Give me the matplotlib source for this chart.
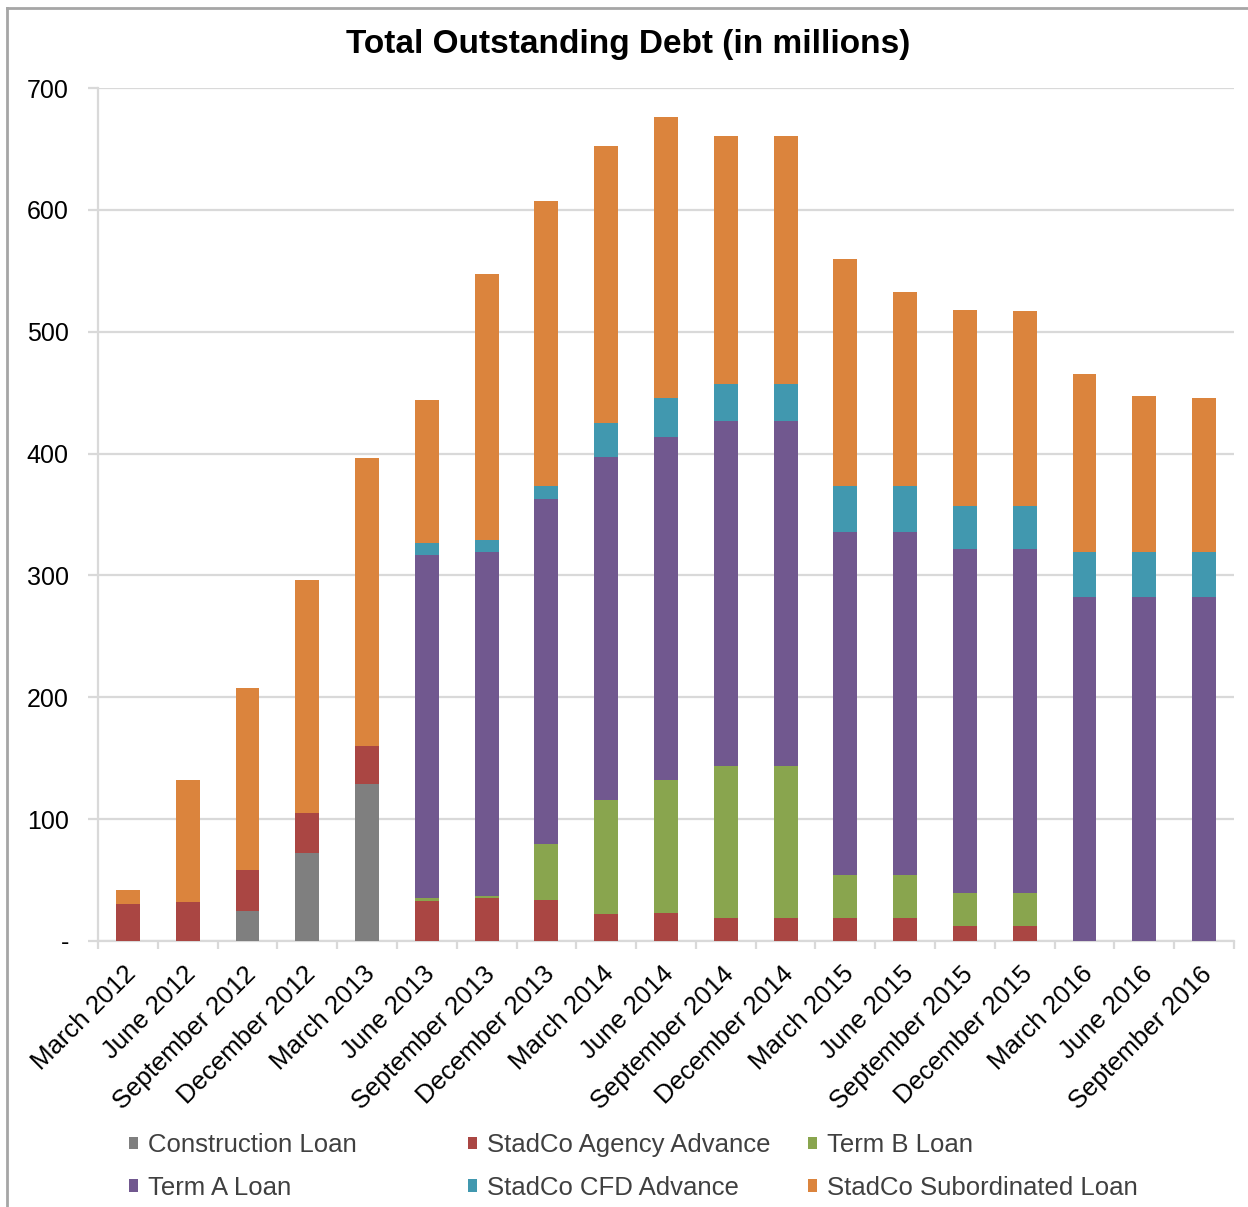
import numpy as np
import matplotlib
matplotlib.use("Agg")
import matplotlib.pyplot as plt
from matplotlib.lines import Line2D
from matplotlib.patches import Patch
from matplotlib.transforms import ScaledTranslation
from matplotlib.ticker import FuncFormatter, FixedLocator

plt.rcParams['font.family'] = ['Liberation Sans', 'DejaVu Sans']

dates = ["March 2012", "June 2012", "September 2012", "December 2012",
         "March 2013", "June 2013", "September 2013", "December 2013",
         "March 2014", "June 2014", "September 2014", "December 2014",
         "March 2015", "June 2015", "September 2015", "December 2015",
         "March 2016", "June 2016", "September 2016"]

construction = [0, 0, 25, 72, 129, 0, 0, 0, 0, 0, 0, 0, 0, 0, 0, 0, 0, 0, 0]
agency       = [30, 32, 33, 33, 31, 33, 35, 34, 22, 23, 19, 19, 19, 19, 12, 12, 0, 0, 0]
term_b       = [0, 0, 0, 0, 0, 2, 2, 46, 94, 109, 125, 125, 35, 35, 27, 27, 0, 0, 0]
term_a       = [0, 0, 0, 0, 0, 282, 282, 283, 281, 282, 283, 283, 282, 282, 283, 283, 282, 282, 282]
cfd          = [0, 0, 0, 0, 0, 10, 10, 10, 28, 32, 30, 30, 37, 37, 35, 35, 37, 37, 37]
subordinated = [12, 100, 150, 191, 236, 117, 218, 234, 227, 230, 204, 204, 187, 160, 161, 160, 146, 128, 127]

series = [
    ("Construction Loan", construction, "#7F7F7F"),
    ("StadCo Agency Advance", agency, "#AA4643"),
    ("Term B Loan", term_b, "#89A54E"),
    ("Term A Loan", term_a, "#71588F"),
    ("StadCo CFD Advance", cfd, "#4198AF"),
    ("StadCo Subordinated Loan", subordinated, "#DB843D"),
]

W, H = 1248, 1207
fig = plt.figure(figsize=(W / 100, H / 100), dpi=100)
ax = fig.add_axes([98 / W, 1 - 941 / H, (1234 - 98) / W, (941 - 88) / H])

x = np.arange(len(dates))
bottom = np.zeros(len(dates))
handles = {}
for name, vals, col in series:
    v = np.array(vals, dtype=float)
    ax.bar(x, v, 0.4, bottom=bottom, color=col, edgecolor='none', zorder=3)
    bottom += v
    handles[name] = Patch(facecolor=col, edgecolor='none')

ax.set_xlim(-0.5, len(dates) - 0.5)
ax.set_ylim(0, 700)
ax.set_yticks(np.arange(0, 701, 100))
ax.yaxis.set_major_formatter(FuncFormatter(lambda v, p: "-" if v == 0 else f"{int(v)}"))
ax.grid(axis='y', color='#D9D9D9', lw=1.6, zorder=0)
ax.tick_params(axis='y', length=7, width=1.6, color='#D9D9D9', pad=14, labelsize=18, labelcolor='#000000')

ax.set_xticks(x)
ax.set_xticklabels(dates, rotation=45, ha='right', va='top', rotation_mode='anchor', fontsize=18.5)
ax.tick_params(axis='x', which='major', length=0, pad=15)
ax.xaxis.set_minor_locator(FixedLocator(np.arange(-0.5, len(dates), 1.0)))
ax.tick_params(axis='x', which='minor', length=6, width=1.6, color='#D9D9D9')
off = ScaledTranslation(-4 / 100, 0, fig.dpi_scale_trans)
for lab in ax.get_xticklabels():
    lab.set_transform(lab.get_transform() + off)

for s in ['top', 'right']:
    ax.spines[s].set_visible(False)
ax.spines['left'].set_color('#D9D9D9')
ax.spines['left'].set_linewidth(1.6)
ax.spines['bottom'].set_color('#D9D9D9')
ax.spines['bottom'].set_linewidth(1.6)

fig.text(628 / W, 1 - 45 / H, "Total Outstanding Debt (in millions)", ha='center', va='center',
         fontsize=24, fontweight='bold')

# legend: three columns of two entries
cols = [
    (["Construction Loan", "Term A Loan"], 129),
    (["StadCo Agency Advance", "StadCo CFD Advance"], 468),
    (["Term B Loan", "StadCo Subordinated Loan"], 808),
]
for names, xpx in cols:
    fig.legend([handles[n] for n in names], names, loc='upper left',
               bbox_to_anchor=(xpx / W, 1 - 1133 / H), frameon=False, fontsize=18.5,
               handlelength=0.35, handleheight=0.35, handletextpad=0.4, labelspacing=0.73,
               borderaxespad=0, borderpad=0, labelcolor='#404040')

# outer frame
fig.add_artist(Line2D([7 / W, 7 / W], [0, 1 - 8 / H], transform=fig.transFigure, color='#A6A6A6', lw=2))
fig.add_artist(Line2D([7 / W, 1], [1 - 8 / H, 1 - 8 / H], transform=fig.transFigure, color='#A6A6A6', lw=2))

fig.savefig("out.png", dpi=100)
